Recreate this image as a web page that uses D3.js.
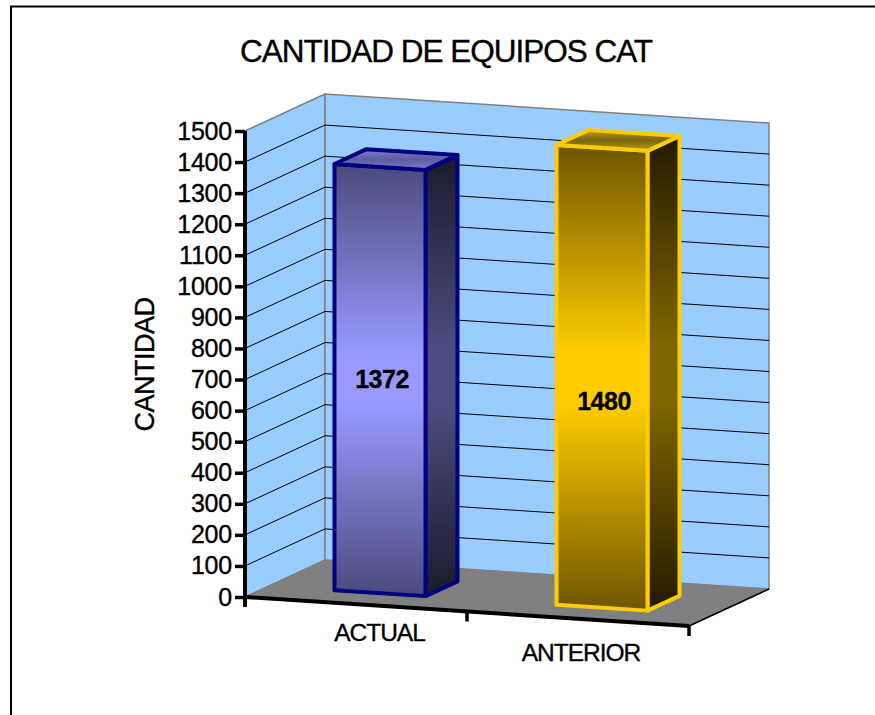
<!DOCTYPE html>
<html>
<head>
<meta charset="utf-8">
<script src="https://cdn.jsdelivr.net/npm/d3@7"></script>
<style>
  html, body { margin: 0; padding: 0; background: #fff; overflow: hidden; }
  /* reference text is a bit heavier than plain regular */
  text { font-family: "Liberation Sans", Arial, sans-serif; fill: #000; stroke: #000; stroke-width: 0.35px; }
</style>
</head>
<body>
<div id="chart"></div>
<script>
var categories = ["ACTUAL", "ANTERIOR"];
var values = [1372, 1480];
var tickValues = [0, 100, 200, 300, 400, 500, 600, 700, 800, 900, 1000, 1100, 1200, 1300, 1400, 1500];
var barColors = ["#000080", "#ffcc00"];
var frontStops = [["#4a4a7c", "#9999ff", "#9999ff", "#4a4a7c"], ["#6e5500", "#ffcc00", "#ffcc00", "#6e5500"]];
var sideStops = [["#1a1a2c", "#4c4c80", "#4c4c80", "#1a1a2c"], ["#221a00", "#806600", "#806600", "#221a00"]];
var topStops = [["#7c7cd0", "#5c5ca0", "#7c7cd0"], ["#b89c18", "#7c6610", "#b89c18"]];
var labelOffset = [[-14, 0], [-14, 24]];

var width = 875, height = 715;

var svg = d3.select('#chart')
    .append('svg')
    .attr('width', width)
    .attr('height', height);

var defs = svg.append('defs');

// the 3d box: value axis on screen, plus skew for the x and depth directions
var yScale = d3.scaleLinear().domain([0, 1500]).range([597, 131]);
var xScale = d3.scaleBand().domain(categories).range([0, 1]).paddingInner(0.59).paddingOuter(0.295);
var floorRun = {x: 444, y: 29}, depthRun = {x: 80, y: -37}, originX = 245;

function project(t, v, d) {
  return [originX + floorRun.x * t + depthRun.x * d, yScale(v) + floorRun.y * t + depthRun.y * d];
}
var line = d3.line();

// outer frame, runs off the picture to the right and bottom
svg.append('rect')
  .attr('x', 11).attr('y', 6.5)
  .attr('width', 900).attr('height', 800)
  .attr('fill', '#fff').attr('stroke', '#000').attr('stroke-width', 2);

// walls and floor
svg.append('path')
  .attr('d', line([project(0, 0, 0), project(0, 1500, 0), project(0, 1500, 1), project(0, 0, 1)]) + 'Z')
  .attr('fill', '#99ccff').attr('stroke', '#808080').attr('stroke-width', 1.5);
svg.append('path')
  .attr('d', line([project(0, 0, 1), project(0, 1500, 1), project(1, 1500, 1), project(1, 0, 1)]) + 'Z')
  .attr('fill', '#99ccff').attr('stroke', '#808080').attr('stroke-width', 1.5);
svg.append('path')
  .attr('d', line([project(0, 0, 0), project(0, 0, 1), project(1, 0, 1), project(1, 0, 0)]) + 'Z')
  .attr('fill', '#808080').attr('stroke', '#808080').attr('stroke-width', 1);

// gridlines
svg.append('g').selectAll('path')
  .data(tickValues.filter(function(d){ return d > 0 && d < 1500 }))
  .enter()
  .append('path')
  .attr('d', function(d){
    return line([project(0, d, 0), project(0, d, 1), project(1, d, 1)]);
  })
  .attr('fill', 'none').attr('stroke', '#000').attr('stroke-width', 1);

svg.append('path')
  .attr('d', line([project(1, 0, 0), project(1, 0, 1)]))
  .attr('stroke', '#000').attr('stroke-width', 1.5);

// bars
function addGradient(id, stops, offsets, y1, y2) {
  var g = defs.append('linearGradient').attr('id', id)
    .attr('gradientUnits', 'userSpaceOnUse')
    .attr('x1', 0).attr('x2', 0).attr('y1', y1).attr('y2', y2);
  stops.forEach(function(c, i){
    g.append('stop').attr('offset', offsets[i]).attr('stop-color', c);
  });
  return 'url(#' + id + ')';
}

categories.forEach(function(cat, i){
  var t0 = xScale(cat), t1 = t0 + xScale.bandwidth(), d0 = 0.3, d1 = 0.7, v = values[i];
  var g = svg.append('g');
  var front = [project(t0, 0, d0), project(t1, 0, d0), project(t1, v, d0), project(t0, v, d0)];
  var side = [project(t1, 0, d0), project(t1, 0, d1), project(t1, v, d1), project(t1, v, d0)];
  var top = [project(t0, v, d0), project(t1, v, d0), project(t1, v, d1), project(t0, v, d1)];

  var bandStops = [0, 0.44, 0.56, 1];
  var frontFill = addGradient('front' + i, frontStops[i], bandStops, front[3][1], front[1][1]);
  var sideFill = addGradient('side' + i, sideStops[i], bandStops, side[2][1], side[0][1]);
  var topFill = addGradient('top' + i, topStops[i], [0, 0.5, 1], top[3][1], top[1][1]);

  [[side, sideFill], [front, frontFill], [top, topFill]].forEach(function(f){
    g.append('path')
      .attr('d', line(f[0]) + 'Z')
      .attr('fill', f[1])
      .attr('stroke', barColors[i])
      .attr('stroke-width', 4)
      .attr('stroke-linejoin', 'round');
  });

  var mid = project((t0 + t1) / 2, v / 2, d0);
  g.append('text')
    .attr('x', mid[0] + labelOffset[i][0] + 16)
    .attr('y', mid[1] + 8 + labelOffset[i][1])
    .attr('text-anchor', 'middle')
    .attr('font-size', 25).attr('font-weight', 'bold')
    .attr('letter-spacing', -0.5)
    .text(v);
});

// value axis
var yAxis = d3.axisLeft(yScale).tickValues(tickValues).tickSize(10).tickPadding(3).tickFormat(d3.format('d'));
var yG = svg.append('g').attr('transform', 'translate(' + originX + ',0)').call(yAxis);
yG.select('.domain').attr('stroke', '#000').attr('stroke-width', 4).attr('d', 'M0,' + yScale(1500) + 'V' + (yScale(0) + 10));
yG.selectAll('.tick line').attr('stroke', '#000').attr('stroke-width', 3.5);
yG.selectAll('.tick text').attr('font-size', 25).attr('font-family', '"Liberation Sans", Arial, sans-serif').attr('letter-spacing', -0.2);

// category axis
svg.append('path')
  .attr('d', line([project(0, 0, 0), project(1, 0, 0)]))
  .attr('stroke', '#000').attr('stroke-width', 4);
svg.append('g').selectAll('path')
  .data([0.5, 1])
  .enter()
  .append('path')
  .attr('d', function(t){
    var p = project(t, 0, 0);
    return 'M' + p[0] + ',' + p[1] + 'v10';
  })
  .attr('stroke', '#000').attr('stroke-width', 3.5);

svg.append('g').selectAll('text')
  .data(categories)
  .enter()
  .append('text')
  .attr('x', function(d, i){ return i ? 581 : 379.5 })
  .attr('y', function(d, i){ return i ? 661 : 641 })
  .attr('text-anchor', 'middle')
  .attr('font-size', 24.5)
  .attr('letter-spacing', -1)
  .text(function(d){ return d });

// titles
svg.append('text')
  .attr('x', 446).attr('y', 62)
  .attr('text-anchor', 'middle')
  .attr('font-size', 31.5)
  .attr('letter-spacing', -1)
  .text('CANTIDAD DE EQUIPOS CAT');

svg.append('text')
  .attr('transform', 'translate(154,364.5) rotate(-90)')
  .attr('text-anchor', 'middle')
  .attr('font-size', 27)
  .attr('letter-spacing', -0.5)
  .text('CANTIDAD');
</script>
</body>
</html>
